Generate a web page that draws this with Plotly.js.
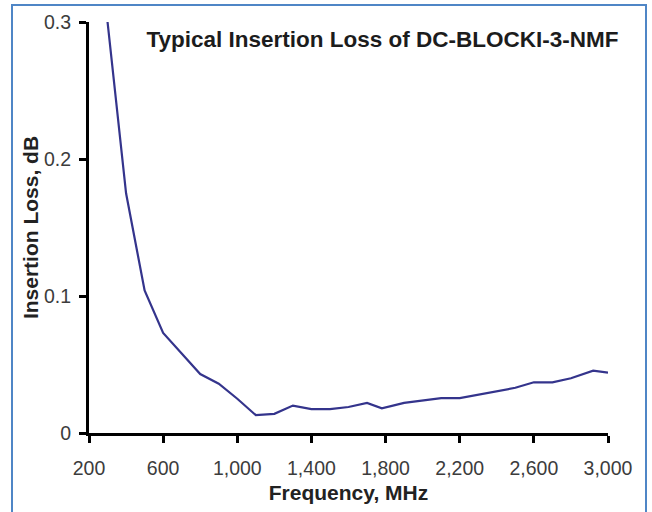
<!DOCTYPE html>
<html>
<head>
<meta charset="utf-8">
<script src="https://cdn.plot.ly/plotly-3.0.1.min.js"></script>
<style>
  html, body { margin: 0; padding: 0; background: #ffffff; overflow: hidden; }
  #wrap { position: relative; width: 652px; height: 512px; }
  #chart { position: absolute; left: 0; top: 0; width: 652px; height: 512px; }
  #frame { position: absolute; left: 11px; top: 4px; width: 632px; height: 530px;
           border: 2px solid #4f86c6; pointer-events: none; }
</style>
</head>
<body>
<div id="wrap">
  <div id="chart"></div>
  <div id="frame"></div>
</div>
<script>
// Data
var frequencyMHz = [300, 350, 400, 500, 600, 700, 800, 900, 1000, 1100, 1200, 1300, 1400, 1500,
                    1600, 1700, 1780, 1900, 2000, 2100, 2200, 2300, 2400, 2500, 2600, 2700,
                    2800, 2920, 3000];
var insertionLossDB = [0.300, 0.236, 0.175, 0.104, 0.073, 0.058, 0.043, 0.036, 0.025, 0.013,
                       0.014, 0.020, 0.0175, 0.0175, 0.019, 0.022, 0.018, 0.022, 0.024, 0.0255,
                       0.0255, 0.028, 0.031, 0.033, 0.037, 0.037, 0.040, 0.0455, 0.044];
var xTickVals = [200, 600, 1000, 1400, 1800, 2200, 2600, 3000];
var xTickText = ["200", "600", "1,000", "1,400", "1,800", "2,200", "2,600", "3,000"];
var yTickVals = [0, 0.1, 0.2, 0.3];
var yTickText = ["0", "0.1", "0.2", "0.3"];

var chartTitle = "Typical Insertion Loss of DC-BLOCKI-3-NMF";
var xTitle = "Frequency, MHz";
var yTitle = "Insertion Loss, dB";

var FONT = "Liberation Sans, Arial, Helvetica, sans-serif";

var trace = {
  x: frequencyMHz,
  y: insertionLossDB,
  type: "scatter",
  mode: "lines",
  line: { color: "#34348c", width: 2.2 },
  hoverinfo: "skip"
};

var layout = {
  width: 652,
  height: 512,
  margin: { l: 89, r: 44, t: 22, b: 79 },
  paper_bgcolor: "#ffffff",
  plot_bgcolor: "#ffffff",
  showlegend: false,
  font: { family: FONT, color: "#3c3c3c" },
  title: {
    text: "<b>" + chartTitle + "</b>",
    font: { family: FONT, size: 22.5, color: "#1c1c1c" },
    xref: "container", x: 382.5 / 652, xanchor: "center",
    yref: "container", y: 1 - 39.5 / 512, yanchor: "middle"
  },
  xaxis: {
    range: [200, 3000],
    tickmode: "array",
    tickvals: xTickVals,
    ticktext: xTickText,
    ticks: "outside",
    ticklen: 7,
    tickwidth: 3,
    tickcolor: "#000000",
    showline: true,
    linecolor: "#000000",
    linewidth: 3,
    showgrid: false,
    zeroline: false,
    tickfont: { family: FONT, size: 19.5, color: "#3c3c3c" },
    ticklabelstandoff: 9,
    title: {
      text: "<b>" + xTitle + "</b>",
      font: { family: FONT, size: 21, color: "#222222" },
      standoff: 7
    },
    fixedrange: true
  },
  yaxis: {
    range: [0, 0.3],
    tickmode: "array",
    tickvals: yTickVals,
    ticktext: yTickText,
    ticks: "outside",
    ticklen: 7,
    tickwidth: 3,
    tickcolor: "#000000",
    showline: true,
    linecolor: "#000000",
    linewidth: 3,
    showgrid: false,
    zeroline: false,
    tickfont: { family: FONT, size: 19.5, color: "#3c3c3c" },
    ticklabelstandoff: 4,
    title: {
      text: "<b>" + yTitle + "</b>",
      font: { family: FONT, size: 21, color: "#222222" },
      standoff: 0
    },
    fixedrange: true
  }
};

Plotly.newPlot("chart", [trace], layout, { displayModeBar: false, staticPlot: true });
</script>
</body>
</html>
